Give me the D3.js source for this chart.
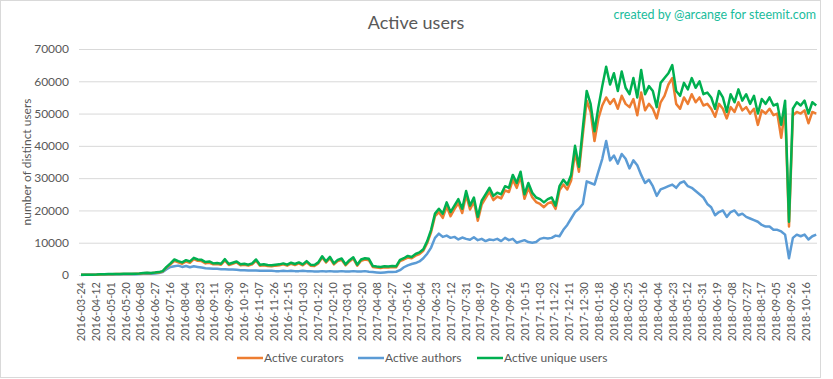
<!DOCTYPE html>
<html>
<head>
<meta charset="utf-8">
<script src="https://cdn.jsdelivr.net/npm/d3@7"></script>
<style>
  body { margin: 0; background: #fff; }
  svg text { font-family: Lato, "Open Sans", sans-serif; }
</style>
</head>
<body>
<svg id="chart"></svg>
<script>
// one sample every 5 days, starting 2016-03-24
var sampleStep = 5;
var dayCount = 947;

var tickLabels = ["2016-03-24","2016-04-12","2016-05-01","2016-05-20","2016-06-08","2016-06-27","2016-07-16","2016-08-04","2016-08-23","2016-09-11",
  "2016-09-30","2016-10-19","2016-11-07","2016-11-26","2016-12-15","2017-01-03","2017-01-22","2017-02-10","2017-03-01","2017-03-20",
  "2017-04-08","2017-04-27","2017-05-16","2017-06-04","2017-06-23","2017-07-12","2017-07-31","2017-08-19","2017-09-07","2017-09-26",
  "2017-10-15","2017-11-03","2017-11-22","2017-12-11","2017-12-30","2018-01-18","2018-02-06","2018-02-25","2018-03-16","2018-04-04",
  "2018-04-23","2018-05-12","2018-05-31","2018-06-19","2018-07-08","2018-07-27","2018-08-17","2018-09-05","2018-09-26","2018-10-16"];
var tickEvery = 19;

var curators = [40,50,70,90,110,180,220,250,270,290,
  300,310,320,340,360,400,540,630,580,680,
  800,1100,2300,3300,4400,3900,3500,4200,3800,4900,
  4400,4300,3600,3800,3300,3400,3200,4500,3100,3500,
  3900,3000,3200,2900,3300,4400,2900,3000,2800,2700,
  2900,3000,3300,2900,3500,3100,3600,3000,3900,2900,
  2800,3600,5400,3900,5200,3300,4300,4700,3000,4200,
  5100,2900,4400,4800,4600,2500,2300,2200,2400,2300,
  2500,2400,4300,4800,5400,5200,6000,6500,7500,9900,
  13300,18200,19500,17700,21300,18200,20400,22300,19200,24800,
  20300,22800,16800,21800,23800,25800,23200,24300,23700,26200,
  25700,29500,27000,30500,23600,27000,24100,22600,22000,21000,
  22200,22600,20500,26200,28000,26500,29300,38000,32000,43500,
  54000,50500,41500,48500,52500,55000,53000,54500,51500,55500,
  53000,52000,54500,49500,56500,51000,53000,51500,48500,53500,
  55500,59000,61000,53000,51500,55000,53000,56000,53500,55000,
  52500,53000,51500,49000,53000,51500,48500,52000,50500,53500,
  51000,52000,50000,51500,46500,51000,50000,51500,49500,50000,
  42500,51500,15000,49500,50500,50000,51000,47000,50500,50000];

var authors = [30,40,50,70,80,130,160,180,190,200,
  210,220,230,240,250,280,380,450,420,480,
  600,900,1800,2500,2700,2900,2500,2800,2400,2700,
  2500,2300,2100,2000,1900,1900,1800,1800,1700,1700,
  1600,1500,1500,1400,1400,1400,1300,1300,1300,1300,
  1200,1200,1300,1200,1300,1200,1200,1300,1200,1200,
  1100,1100,1200,1100,1200,1100,1100,1200,1100,1100,
  1200,1100,1100,1200,1000,900,800,700,800,900,
  900,1000,1500,2400,3000,3400,3700,4200,5200,6600,
  8500,11500,12800,11800,12200,11500,11800,11000,11600,11200,
  10900,11700,10800,11200,10500,11000,10800,11200,10500,11500,
  10800,11200,10000,10400,10800,10200,10000,10200,11200,11500,
  11300,11500,12200,12000,14000,15500,17500,19500,20500,22000,
  29000,28500,28000,32000,36000,41500,35500,37000,34500,37500,
  36000,33000,35500,34000,31000,28500,29500,27500,24500,26500,
  27000,27500,28000,27000,28500,29000,27500,27000,26000,25000,
  24000,22000,21000,18500,19500,20000,18000,19500,20000,18500,
  19000,18000,17500,17000,16500,15500,15000,15000,14000,14000,
  13500,12500,5200,11500,12500,12000,12500,11000,12000,12500];

var uniqueUsers = [50,60,80,100,120,200,250,280,300,320,
  330,350,360,380,400,450,600,700,650,750,
  900,1200,2500,3600,4800,4300,3900,4600,4200,5300,
  4800,4700,4000,4200,3600,3700,3500,4900,3400,3800,
  4200,3300,3500,3200,3600,4800,3200,3300,3100,3000,
  3200,3300,3600,3200,3800,3400,3900,3300,4300,3200,
  3100,3900,5800,4200,5600,3600,4700,5100,3300,4600,
  5500,3200,4800,5200,5000,2800,2600,2500,2700,2600,
  2800,2700,4700,5200,5900,5600,6500,7000,8000,10500,
  14000,19000,20500,19000,22500,19500,21500,23500,20500,26000,
  21500,24000,18000,23000,25000,27000,24500,25500,25000,27500,
  27000,31000,28500,32000,25000,28500,25500,24000,23500,22500,
  23500,24000,21500,27500,29500,28000,31000,40000,33500,45500,
  57000,53000,44500,52000,58500,64500,59000,62500,57000,63000,
  58000,56000,61000,55000,63500,56000,58500,57000,52000,59500,
  61000,62500,65000,57000,55500,59500,57500,61000,58000,60000,
  56000,56500,55000,51500,57000,55000,50500,56000,53500,57500,
  54000,56000,53000,55500,50000,54500,53000,55000,52500,53000,
  46500,54000,16500,51500,53500,52500,54000,50000,53500,52500];

var yTicks = [0,10000,20000,30000,40000,50000,60000,70000];

var series = [
  {name: "Active curators", values: curators, color: "#ed7d31"},
  {name: "Active authors", values: authors, color: "#5b9bd5"},
  {name: "Active unique users", values: uniqueUsers, color: "#00b050"}
];

var width = 833, height = 379;
var margin = {top: 49, right: 16, bottom: 104, left: 79};
var plotW = width - margin.left - margin.right;
var plotH = height - margin.top - margin.bottom;

var svg = d3.select("#chart")
  .attr("width", width)
  .attr("height", height);

// outer frame
svg.append("rect")
  .attr("x", 0.5).attr("y", 0.5)
  .attr("width", 820).attr("height", 377)
  .attr("fill", "#fff")
  .attr("stroke", "#d9d9d9");

var g = svg.append("g")
  .attr("transform", "translate(" + margin.left + "," + margin.top + ")");

var x = d3.scaleLinear()
  .domain([0, dayCount - 1])
  .range([2, plotW]);
var y = d3.scaleLinear()
  .domain([0, 70000])
  .range([plotH, 0]);

// gridlines + y labels
var yAxis = g.append("g")
  .call(d3.axisLeft(y).tickValues(yTicks).tickSize(-plotW).tickPadding(10).tickFormat(d3.format("d")));
yAxis.select(".domain").remove();
yAxis.selectAll("line").attr("stroke", "#d9d9d9");
yAxis.selectAll("text").attr("fill", "#595959").style("font-size", "12px");

// x labels
var xAxis = g.append("g")
  .attr("transform", "translate(0," + plotH + ")")
  .call(d3.axisBottom(x)
    .tickValues(tickLabels.map(function(d, i) { return i * tickEvery; }))
    .tickSize(0)
    .tickFormat(function(d, i) { return tickLabels[i]; }));
xAxis.select(".domain").remove();
xAxis.selectAll("text")
  .attr("fill", "#595959")
  .style("font-size", "11px")
  .attr("text-anchor", "end")
  .attr("transform", "rotate(-90)")
  .attr("x", -7)
  .attr("y", 0)
  .attr("dy", "0.35em");

var line = d3.line()
  .x(function(d, i) { return x(i * sampleStep); })
  .y(function(d) { return y(d); });

g.selectAll(".series")
  .data([series[1], series[0], series[2]])
  .enter().append("path")
  .attr("class", "series")
  .attr("fill", "none")
  .attr("stroke", function(d) { return d.color; })
  .attr("stroke-width", 2.5)
  .attr("stroke-linejoin", "round")
  .attr("d", function(d) { return line(d.values); });

// title & credit
svg.append("text")
  .attr("x", 416).attr("y", 29)
  .attr("text-anchor", "middle")
  .attr("fill", "#595959")
  .style("font-size", "18px")
  .text("Active users");

svg.append("text")
  .attr("x", 816).attr("y", 19)
  .attr("text-anchor", "end")
  .attr("fill", "#1abc9c")
  .style("font-size", "12.5px")
  .text("created by @arcange for steemit.com");

svg.append("text")
  .attr("transform", "translate(31," + (margin.top + plotH / 2) + ") rotate(-90)")
  .attr("text-anchor", "middle")
  .attr("fill", "#595959")
  .style("font-size", "12px")
  .text("number of distinct users");

// legend
var legendX = [237, 358, 477];
var legend = svg.selectAll(".legend")
  .data(series)
  .enter().append("g")
  .attr("class", "legend")
  .attr("transform", function(d, i) { return "translate(" + legendX[i] + ",358)"; });
legend.append("line")
  .attr("x1", 0).attr("x2", 26)
  .attr("stroke", function(d) { return d.color; })
  .attr("stroke-width", 2.5);
legend.append("text")
  .attr("x", 27).attr("dy", "0.35em")
  .attr("fill", "#595959")
  .style("font-size", "12px")
  .text(function(d) { return d.name; });
</script>
</body>
</html>
